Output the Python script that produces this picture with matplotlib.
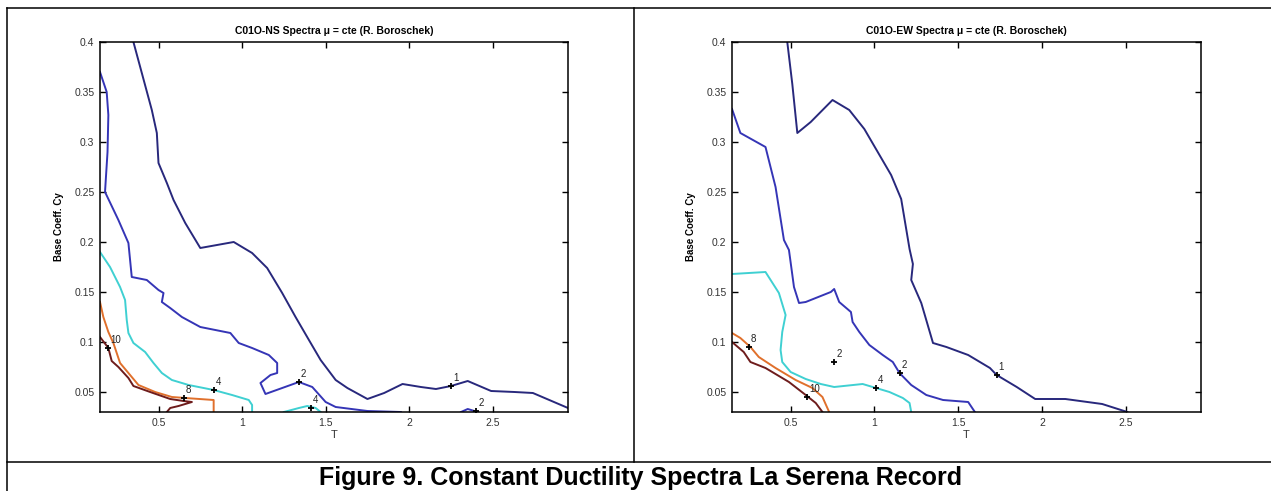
"""
plot.py -- Figure 9, constant ductility spectra for the La Serena record (NS and EW).

Contour lines of equal ductility (mu = 1, 2, 4, 8, 10) in the T -- Cy plane,
drawn as polylines read off the original figure, with MATLAB-style clabel markers.
"""
import matplotlib
matplotlib.use("Agg")
import matplotlib.pyplot as plt
from matplotlib.lines import Line2D

plt.rcParams["font.family"] = ["Liberation Sans", "DejaVu Sans"]

# ---- C01O-NS ------------------------------------------------------------------
ns_T_mu1 = [0.35, 0.46, 0.49, 0.50, 0.55, 0.59, 0.66, 0.75, 0.95, 1.06, 1.15, 1.24, 1.32,
            1.40, 1.47, 1.56, 1.63, 1.75, 1.85, 1.96, 2.07, 2.16, 2.25, 2.35, 2.49, 2.63,
            2.74, 2.95]
ns_C_mu1 = [0.400, 0.332, 0.309, 0.279, 0.259, 0.242, 0.219, 0.194, 0.200, 0.189, 0.174,
            0.149, 0.125, 0.102, 0.082, 0.062, 0.054, 0.043, 0.049, 0.058, 0.055, 0.053,
            0.056, 0.061, 0.051, 0.050, 0.049, 0.034]

ns_T_mu2 = [0.15, 0.19, 0.20, 0.195, 0.18, 0.26, 0.32, 0.34, 0.43, 0.50, 0.53, 0.52, 0.57,
            0.64, 0.75, 0.84, 0.93, 0.98, 1.06, 1.16, 1.21, 1.21, 1.17, 1.11, 1.14, 1.24,
            1.34, 1.42, 1.50, 1.56, 1.75, 1.95]
ns_C_mu2 = [0.370, 0.350, 0.327, 0.290, 0.250, 0.222, 0.199, 0.165, 0.162, 0.152, 0.149,
            0.140, 0.134, 0.125, 0.115, 0.112, 0.109, 0.099, 0.094, 0.087, 0.079, 0.069,
            0.067, 0.059, 0.048, 0.054, 0.060, 0.055, 0.040, 0.035, 0.031, 0.030]
ns_T_mu2b = [2.31, 2.35, 2.41]
ns_C_mu2b = [0.030, 0.033, 0.030]

ns_T_mu4 = [0.15, 0.21, 0.27, 0.30, 0.31, 0.32, 0.35, 0.42, 0.47, 0.52, 0.58, 0.68, 0.83,
            0.94, 1.04, 1.06, 1.06]
ns_C_mu4 = [0.190, 0.175, 0.155, 0.142, 0.122, 0.109, 0.099, 0.090, 0.079, 0.069, 0.062,
            0.057, 0.052, 0.047, 0.042, 0.037, 0.030]
ns_T_mu4b = [1.25, 1.34, 1.39, 1.44, 1.47]
ns_C_mu4b = [0.030, 0.034, 0.036, 0.034, 0.030]

ns_T_mu8 = [0.15, 0.17, 0.20, 0.23, 0.25, 0.27, 0.32, 0.38, 0.48, 0.58, 0.66, 0.83, 0.83]
ns_C_mu8 = [0.140, 0.125, 0.110, 0.099, 0.089, 0.079, 0.069, 0.057, 0.050, 0.045, 0.044,
            0.042, 0.030]

ns_T_mu10 = [0.15, 0.20, 0.22, 0.26, 0.32, 0.35, 0.45, 0.57, 0.65, 0.70, 0.62, 0.57, 0.55]
ns_C_mu10 = [0.105, 0.094, 0.081, 0.075, 0.064, 0.056, 0.050, 0.043, 0.041, 0.040, 0.036,
             0.034, 0.030]

ns_lab_text = ["10", "8", "4", "4", "2", "2", "1"]
ns_lab_T = [0.20, 0.65, 0.83, 1.41, 1.34, 2.40, 2.25]
ns_lab_C = [0.094, 0.044, 0.052, 0.034, 0.060, 0.031, 0.056]

# ---- C01O-EW ------------------------------------------------------------------
ew_T_mu1 = [0.48, 0.51, 0.54, 0.62, 0.75, 0.85, 0.94, 1.02, 1.10, 1.16, 1.18, 1.21, 1.23,
            1.22, 1.28, 1.35, 1.43, 1.56, 1.69, 1.73, 1.85, 1.96, 2.14, 2.36, 2.51]
ew_C_mu1 = [0.400, 0.358, 0.309, 0.320, 0.342, 0.332, 0.313, 0.290, 0.267, 0.243, 0.223,
            0.193, 0.178, 0.162, 0.139, 0.099, 0.095, 0.087, 0.074, 0.067, 0.055, 0.043,
            0.043, 0.038, 0.030]

ew_T_mu2 = [0.15, 0.20, 0.35, 0.41, 0.46, 0.49, 0.52, 0.55, 0.59, 0.74, 0.76, 0.79, 0.86,
            0.87, 0.91, 0.97, 1.05, 1.11, 1.15, 1.22, 1.31, 1.41, 1.56, 1.60]
ew_C_mu2 = [0.333, 0.309, 0.295, 0.255, 0.202, 0.192, 0.155, 0.139, 0.140, 0.150, 0.153,
            0.140, 0.130, 0.120, 0.110, 0.097, 0.087, 0.080, 0.069, 0.057, 0.047, 0.042,
            0.040, 0.030]

ew_T_mu4 = [0.15, 0.35, 0.43, 0.47, 0.45, 0.44, 0.45, 0.50, 0.59, 0.68, 0.76, 0.93, 1.01,
            1.09, 1.17, 1.21, 1.22]
ew_C_mu4 = [0.168, 0.170, 0.149, 0.127, 0.110, 0.092, 0.080, 0.070, 0.063, 0.058, 0.055,
            0.058, 0.054, 0.050, 0.044, 0.039, 0.030]

ew_T_mu8 = [0.15, 0.20, 0.26, 0.31, 0.41, 0.53, 0.63, 0.69, 0.73]
ew_C_mu8 = [0.109, 0.104, 0.095, 0.085, 0.074, 0.062, 0.054, 0.045, 0.030]

ew_T_mu10 = [0.15, 0.22, 0.26, 0.35, 0.49, 0.59, 0.65, 0.69]
ew_C_mu10 = [0.100, 0.090, 0.080, 0.074, 0.060, 0.047, 0.039, 0.030]

ew_lab_text = ["8", "10", "2", "2", "4", "1"]
ew_lab_T = [0.25, 0.60, 0.76, 1.15, 1.01, 1.73]
ew_lab_C = [0.095, 0.045, 0.080, 0.069, 0.054, 0.067]

x_ticks = [0.5, 1, 1.5, 2, 2.5]
x_tick_labels = ["0.5", "1", "1.5", "2", "2.5"]
y_ticks = [0.05, 0.1, 0.15, 0.2, 0.25, 0.3, 0.35, 0.4]
y_tick_labels = ["0.05", "0.1", "0.15", "0.2", "0.25", "0.3", "0.35", "0.4"]

C_MU1, C_MU2, C_MU4, C_MU8, C_MU10 = "#28287c", "#3535b6", "#3fd0d2", "#e0702c", "#6e1c1c"

W, H = 1271, 491
fig = plt.figure(figsize=(W / 100, H / 100), dpi=100)


def px(x0, y0, x1, y1):
    # axes rect from pixel box (top-left origin)
    return [x0 / W, 1 - y1 / H, (x1 - x0) / W, (y1 - y0) / H]


def panel(rect, title, curves, lab_text, lab_T, lab_C):
    ax = fig.add_axes(rect)
    for T, C, col in curves:
        ax.plot(T, C, color=col, lw=1.4, solid_joinstyle="round")
    ax.plot(lab_T, lab_C, ls="none", marker="+", color="black", ms=5, mew=1.3)
    for s, t, c in zip(lab_text, lab_T, lab_C):
        ax.text(t + 0.012, c + 0.003, s, fontsize=7, color="#222222", ha="left", va="bottom")
    ax.set_xlim(0.15, 2.95)
    ax.set_ylim(0.03, 0.4)
    ax.set_xticks(x_ticks, x_tick_labels)
    ax.set_yticks(y_ticks, y_tick_labels)
    ax.tick_params(direction="in", length=4, width=1.0, labelsize=7.5, labelcolor="#333333",
                   top=True, right=True, pad=4)
    for sp in ax.spines.values():
        sp.set_linewidth(1.1)
    ax.set_title(title, fontsize=7.5, fontweight="bold", pad=6)
    ax.set_xlabel("T", fontsize=8, color="#333333")
    ax.xaxis.set_label_coords(0.5, -0.048)
    ax.set_ylabel("Base Coeff. Cy", fontsize=7, fontweight="bold")
    ax.yaxis.set_label_coords(-0.077, 0.5)
    return ax


panel(px(100, 42, 568, 412), "C01O-NS Spectra \u03bc = cte (R. Boroschek)",
      [(ns_T_mu1, ns_C_mu1, C_MU1), (ns_T_mu2, ns_C_mu2, C_MU2), (ns_T_mu2b, ns_C_mu2b, C_MU2),
       (ns_T_mu4, ns_C_mu4, C_MU4), (ns_T_mu4b, ns_C_mu4b, C_MU4),
       (ns_T_mu8, ns_C_mu8, C_MU8), (ns_T_mu10, ns_C_mu10, C_MU10)],
      ns_lab_text, ns_lab_T, ns_lab_C)

panel(px(732, 42, 1201, 412), "C01O-EW Spectra \u03bc = cte (R. Boroschek)",
      [(ew_T_mu1, ew_C_mu1, C_MU1), (ew_T_mu2, ew_C_mu2, C_MU2), (ew_T_mu4, ew_C_mu4, C_MU4),
       (ew_T_mu8, ew_C_mu8, C_MU8), (ew_T_mu10, ew_C_mu10, C_MU10)],
      ew_lab_text, ew_lab_T, ew_lab_C)

# table frame around the two panels and the caption row
def fline(x0, y0, x1, y1):
    fig.add_artist(Line2D([x0 / W, x1 / W], [1 - y0 / H, 1 - y1 / H],
                          color="black", lw=1.1, transform=fig.transFigure))

fline(7, 8, W, 8)
fline(7, 8, 7, H)
fline(634, 8, 634, 462)
fline(7, 462, W, 462)

fig.text(641 / W, 1 - 478 / H, "Figure 9. Constant Ductility Spectra La Serena Record",
         fontsize=18, fontweight="bold", ha="center", va="center")

fig.savefig("out.png", dpi=100)
